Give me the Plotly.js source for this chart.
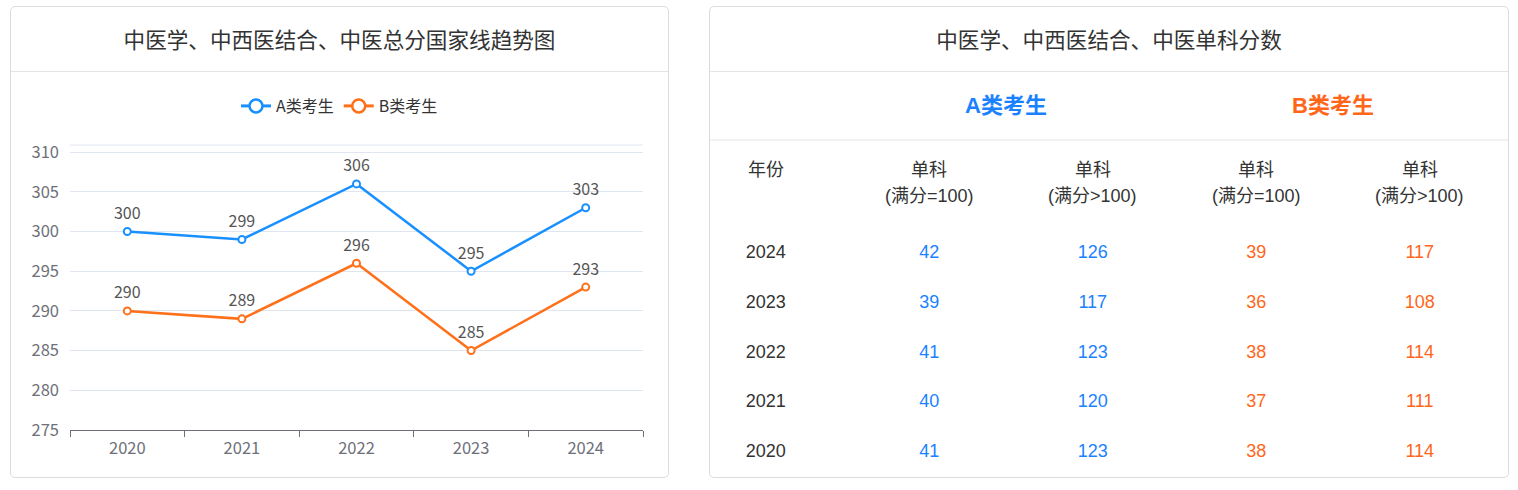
<!DOCTYPE html>
<html>
<head>
<meta charset="utf-8">
<script src="https://cdn.plot.ly/plotly-3.0.1.min.js"></script>
<style>
  html, body { margin: 0; padding: 0; background: #fff; }
  body { width: 1518px; height: 490px; position: relative; overflow: hidden; }
  .card { position: absolute; top: 6px; height: 472px; box-sizing: border-box;
          border: 1px solid #dcdcdc; border-radius: 5px; background: #fff; }
  .card-head { height: 64px; border-bottom: 1px solid #e4e4e4; text-align: center;
               line-height: 64px; font-family: "Noto Sans CJK SC", sans-serif;
               font-size: 21.6px; color: #333; }
  .card-body { width: 100%; height: 405px; }
  #left { left: 10px; width: 659px; }
  #right { left: 709px; width: 800px; }
</style>
</head>
<body>
<div class="card" id="left">
  <div class="card-head">中医学、中西医结合、中医总分国家线趋势图</div>
  <div class="card-body" id="chart"></div>
</div>
<div class="card" id="right">
  <div class="card-head">中医学、中西医结合、中医单科分数</div>
  <div class="card-body" id="table"></div>
</div>
<script>
// ---------- data ----------
const years = ['2020', '2021', '2022', '2023', '2024'];
const seriesNames = ['A类考生', 'B类考生'];
const aTotal = [300, 299, 306, 295, 303];
const bTotal = [290, 289, 296, 285, 293];

const tableYears = ['2024', '2023', '2022', '2021', '2020'];
const aSingle100 = [42, 39, 41, 40, 41];
const aSingleOver = [126, 117, 123, 120, 123];
const bSingle100 = [39, 36, 38, 37, 38];
const bSingleOver = [117, 108, 114, 111, 114];
const colHeaders = ['年份', '单科', '单科', '单科', '单科'];
const colSubHeaders = ['', '(满分=100)', '(满分>100)', '(满分=100)', '(满分>100)'];
const groupHeaders = ['A类考生', 'B类考生'];

// ---------- styles ----------
const BLUE = '#1890ff', ORANGE = '#ff701a';
const TBLUE = '#1a82ff', TORANGE = '#ff661a';
const AXIS = '#6E7079', GRID = '#E0E6F1';
const CJK = '"Noto Sans CJK SC", sans-serif';
const ARIAL = '"Liberation Sans", "Noto Sans CJK SC", sans-serif';

// ---------- line chart ----------
const series = [aTotal, bTotal];
const colors = [BLUE, ORANGE];
const traces = [];
series.forEach((vals, i) => {
  traces.push({
    x: years, y: vals, type: 'scatter', mode: 'lines+markers',
    line: { color: colors[i], width: 2.5 },
    marker: { symbol: 'circle', size: 7, color: '#fff', line: { color: colors[i], width: 2 } },
    showlegend: false, hoverinfo: 'x+y', cliponaxis: false
  });
});
// value labels (invisible markers set the text offset)
series.forEach((vals) => {
  traces.push({
    x: years, y: vals, type: 'scatter', mode: 'markers+text', text: vals.map(String),
    textposition: 'top center', marker: { size: 12, color: 'rgba(0,0,0,0)' },
    textfont: { family: CJK, size: 16, color: '#555' },
    showlegend: false, hoverinfo: 'skip', cliponaxis: false
  });
});
series.forEach((vals, i) => {
  traces.push({
    x: [null], y: [null], type: 'scatter', mode: 'lines+markers', name: seriesNames[i],
    line: { color: colors[i], width: 3 },
    marker: { symbol: 'circle', size: 13, color: '#fff', line: { color: colors[i], width: 2.5 } },
    showlegend: true
  });
});
// invisible trace to carry the boundary tick axis
traces.push({ x: [-0.5, years.length - 0.5], y: [null, null], xaxis: 'x2', type: 'scatter',
  mode: 'markers', showlegend: false, hoverinfo: 'skip' });

const boundaryTicks = [];
for (let k = 0; k <= years.length; k++) boundaryTicks.push(k - 0.5);

const layout = {
  width: 657, height: 405,
  margin: { l: 59, r: 25, t: 73, b: 47, pad: 0 },
  paper_bgcolor: 'rgba(0,0,0,0)', plot_bgcolor: 'rgba(0,0,0,0)',
  font: { family: CJK, size: 16, color: AXIS },
  showlegend: true,
  legend: { orientation: 'h', x: 0.5, xref: 'container', xanchor: 'center',
            y: 1 - 34 / 405, yref: 'container', yanchor: 'middle',
            font: { family: CJK, size: 16, color: '#333' }, itemclick: false, tracegroupgap: 0 },
  xaxis: { type: 'category', range: [-0.5, years.length - 0.5], showgrid: false, zeroline: false,
           ticks: '', showline: false, tickfont: { family: CJK, size: 16.5, color: AXIS },
           ticklabelstandoff: 6, fixedrange: true },
  xaxis2: { overlaying: 'x', anchor: 'y', side: 'bottom', range: [-0.5, years.length - 0.5],
            tickmode: 'array', tickvals: boundaryTicks, showticklabels: false,
            ticks: 'outside', ticklen: 6, tickcolor: AXIS, tickwidth: 1,
            showline: true, linecolor: AXIS, linewidth: 1, showgrid: false, zeroline: false, fixedrange: true },
  yaxis: { range: [275, 310.9], tickmode: 'linear', tick0: 275, dtick: 5, showgrid: true,
           gridcolor: GRID, gridwidth: 1, zeroline: false, showline: false, ticks: '',
           ticklabelstandoff: 10, tickfont: { family: CJK, size: 16.5, color: AXIS }, fixedrange: true },
  shapes: [{ type: 'line', xref: 'paper', yref: 'paper', x0: 0, x1: 1, y0: 1, y1: 1,
             line: { color: GRID, width: 1 }, layer: 'below' }]
};
Plotly.newPlot('chart', traces, layout, { displayModeBar: false, staticPlot: true });

// ---------- table ----------
const columns = [tableYears, aSingle100, aSingleOver, bSingle100, bSingleOver];
const colColors = ['#333', TBLUE, TBLUE, TORANGE, TORANGE];
const rowIdx = tableYears.map((_, r) => r);
const tTraces = columns.map((col, c) => ({
  x: col.map(() => c), y: rowIdx, text: col.map(String), type: 'scatter', mode: 'text',
  textposition: 'middle center', cliponaxis: false, hoverinfo: 'skip', showlegend: false,
  textfont: { family: ARIAL, size: 18, color: colColors[c] }
}));
const tAnns = [];
colHeaders.forEach((h, c) => {
  tAnns.push({ x: c, xref: 'x', y: 1 - 98 / 405, yref: 'paper', yanchor: 'middle', text: h,
    showarrow: false, font: { family: ARIAL, size: 18, color: '#333' } });
  if (colSubHeaders[c]) {
    tAnns.push({ x: c, xref: 'x', y: 1 - 124 / 405, yref: 'paper', yanchor: 'middle', text: colSubHeaders[c],
      showarrow: false, font: { family: ARIAL, size: 18, color: '#333' } });
  }
});
groupHeaders.forEach((g, i) => {
  tAnns.push({ x: 1.47 + 2 * i, xref: 'x', y: 1 - 34 / 405, yref: 'paper', yanchor: 'middle',
    text: '<b>' + g + '</b>', showarrow: false,
    font: { family: ARIAL, size: 22, color: i === 0 ? TBLUE : TORANGE } });
});
const TW = 798, TH = 405, colX0 = 55.8, colStep = 163.5, rowY0 = 181.5, rowStep = 49.75;
const tLayout = {
  width: TW, height: TH, margin: { l: 0, r: 0, t: 0, b: 0 },
  paper_bgcolor: 'rgba(0,0,0,0)', plot_bgcolor: 'rgba(0,0,0,0)',
  xaxis: { range: [-colX0 / colStep, (TW - colX0) / colStep], visible: false, fixedrange: true },
  yaxis: { range: [(TH - rowY0) / rowStep, -rowY0 / rowStep], visible: false, fixedrange: true },
  shapes: [{ type: 'line', xref: 'paper', yref: 'paper', x0: 0, x1: 1, y0: 1 - 68 / 405, y1: 1 - 68 / 405,
             line: { color: '#e4e4e4', width: 1 } }],
  annotations: tAnns
};
Plotly.newPlot('table', tTraces, tLayout, { displayModeBar: false, staticPlot: true });
</script>
</body>
</html>
